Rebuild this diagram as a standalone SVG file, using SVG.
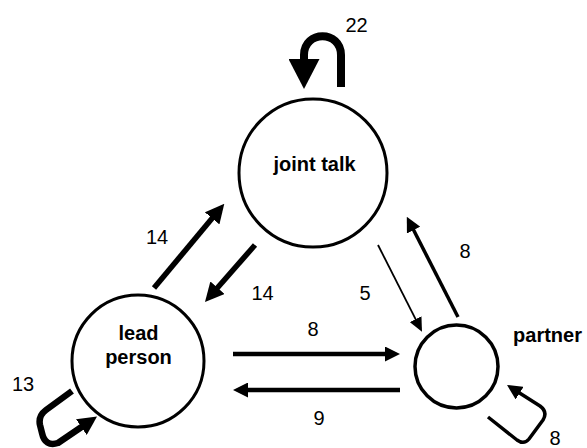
<svg xmlns="http://www.w3.org/2000/svg" width="587" height="448" viewBox="0 0 587 448">
<style>
.node{fill:#fff;stroke:#000;stroke-width:3}
.nl{font-family:"Liberation Sans",Arial,sans-serif;font-size:20px;font-weight:bold;fill:#000;text-anchor:middle}
.el{font-family:"Liberation Sans",Arial,sans-serif;font-size:20px;fill:#000;text-anchor:middle}
.c{fill:none;stroke:#000;stroke-linejoin:round}
</style>
<defs>
<marker id="hXL" viewBox="0 0 30 31" refX="2" refY="15.5" markerWidth="30" markerHeight="31" markerUnits="userSpaceOnUse" orient="auto"><path d="M0,0 L30,15.5 L0,31 z" fill="#000"/></marker>
<marker id="hL" viewBox="0 0 19 19" refX="2" refY="9.5" markerWidth="19" markerHeight="19" markerUnits="userSpaceOnUse" orient="auto"><path d="M0,0 L19,9.5 L0,19 z" fill="#000"/></marker>
<marker id="hM" viewBox="0 0 15 15" refX="2" refY="7.5" markerWidth="15" markerHeight="15" markerUnits="userSpaceOnUse" orient="auto"><path d="M0,0 L15,7.5 L0,15 z" fill="#000"/></marker>
<marker id="hS" viewBox="0 0 14 13" refX="1" refY="6.5" markerWidth="14" markerHeight="13" markerUnits="userSpaceOnUse" orient="auto"><path d="M0,0 L14,6.5 L0,13 z" fill="#000"/></marker>
</defs>
<g id="connectors">
<path class="c" d="M341,87 L341,55 C341,30 304,30 304,55 L304,61" stroke-width="8" marker-end="url(#hXL)"/>
<path class="c" d="M154,288 L213.4,216.8" stroke-width="5.5" marker-end="url(#hL)"/>
<path class="c" d="M255,245 L216.2,289.2" stroke-width="5.5" marker-end="url(#hL)"/>
<path class="c" d="M233,354 L387,354" stroke-width="4.5" marker-end="url(#hM)"/>
<path class="c" d="M400,390 L246,390" stroke-width="4.5" marker-end="url(#hM)"/>
<path class="c" d="M378,245 L416.1,320.1" stroke-width="1.8" marker-end="url(#hS)"/>
<path class="c" d="M458,317 L412.7,228.3" stroke-width="3.5" marker-end="url(#hM)"/>
<path class="c" d="M72,391 L46,410 Q38,416 40,425 L42,433 Q45,447 58,443 L83,426" stroke-width="6.5" marker-end="url(#hL)"/>
<path class="c" d="M488,417 L517,440 Q524,445 529,439 L543,420 Q548,412 540,406 L518,392" stroke-width="3.5" marker-end="url(#hM)"/>
<text class="el" x="356.5" y="32">22</text>
<text class="el" x="157" y="244">14</text>
<text class="el" x="262.5" y="300">14</text>
<text class="el" x="365" y="300">5</text>
<text class="el" x="465" y="258">8</text>
<text class="el" x="313" y="336">8</text>
<text class="el" x="319" y="425">9</text>
<text class="el" x="23" y="391">13</text>
<text class="el" x="555" y="445">8</text>
</g>
<g id="joint-talk">
<circle class="node" cx="313" cy="173" r="74"/>
<text class="nl" x="314.5" y="171">joint talk</text>
</g>
<g id="lead-person">
<circle class="node" cx="138" cy="361" r="66"/>
<text class="nl" x="138.5" y="340">lead</text>
<text class="nl" x="138.5" y="364">person</text>
</g>
<g id="partner">
<circle class="node" cx="456.5" cy="366.5" r="41.5" style="stroke-width:3.5"/>
<text class="nl" x="547.5" y="342">partner</text>
</g>
</svg>
